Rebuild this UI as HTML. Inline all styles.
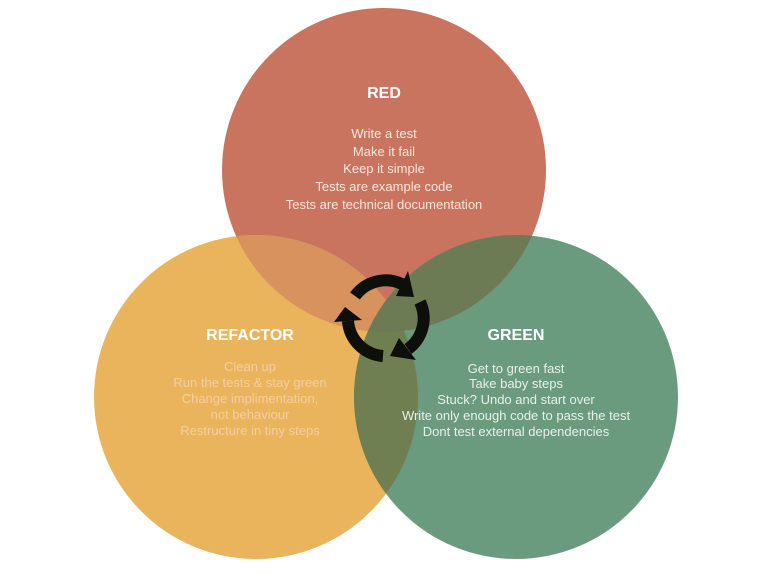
<!DOCTYPE html>
<html><head><style>
html,body{margin:0;padding:0;background:#fff;width:768px;height:576px;overflow:hidden}
svg text{font-family:"Liberation Sans",sans-serif;text-anchor:middle}
</style></head><body>
<svg width="768" height="576" viewBox="0 0 768 576" xmlns="http://www.w3.org/2000/svg">
<defs>
<clipPath id="cr"><circle cx="384" cy="170" r="162"/></clipPath>
<clipPath id="co"><circle cx="256" cy="397" r="162"/></clipPath>
<clipPath id="cg"><circle cx="516" cy="397" r="162"/></clipPath>
</defs>
<circle cx="384" cy="170" r="162" fill="#C8745F"/>
<circle cx="256" cy="397" r="162" fill="#E9B45B"/>
<circle cx="516" cy="397" r="162" fill="#6B9B7E"/>
<g clip-path="url(#cr)"><circle cx="256" cy="397" r="162" fill="#D8925E"/></g>
<g clip-path="url(#cg)"><circle cx="256" cy="397" r="162" fill="#707F52"/></g>
<g clip-path="url(#cr)"><circle cx="516" cy="397" r="162" fill="#6C7B53"/></g>
<g fill="none" stroke="#0E0E0A" stroke-width="12">
<path d="M355 296 A38 38 0 0 1 402 284"/>
<path d="M420 302 A38 38 0 0 1 408 349"/>
<path d="M383 356 A38 38 0 0 1 348 321"/>
</g>
<g fill="#0E0E0A">
<polygon points="396,296 408,271 414,297"/>
<polygon points="399,338 416,360 390,356"/>
<polygon points="362,320 334,322 345,307"/>
</g>
<text x="384" y="98" font-size="16" font-weight="bold" fill="#fff">RED</text>
<g font-size="13" fill="#F8E6DF">
<text x="384" y="138">Write a test</text>
<text x="384" y="156">Make it fail</text>
<text x="384" y="173">Keep it simple</text>
<text x="384" y="191">Tests are example code</text>
<text x="384" y="209">Tests are technical documentation</text>
</g>
<text x="250" y="340" font-size="16" font-weight="bold" fill="#fff">REFACTOR</text>
<g font-size="13" fill="#F2CFA6">
<text x="250" y="371">Clean up</text>
<text x="250" y="387">Run the tests &amp; stay green</text>
<text x="250" y="403">Change implimentation,</text>
<text x="250" y="419">not behaviour</text>
<text x="250" y="435">Restructure in tiny steps</text>
</g>
<text x="516" y="340" font-size="16" font-weight="bold" fill="#fff">GREEN</text>
<g font-size="13" fill="#E8F0EA">
<text x="516" y="373">Get to green fast</text>
<text x="516" y="388">Take baby steps</text>
<text x="516" y="404">Stuck? Undo and start over</text>
<text x="516" y="420">Write only enough code to pass the test</text>
<text x="516" y="436">Dont test external dependencies</text>
</g>
</svg>
</body></html>
